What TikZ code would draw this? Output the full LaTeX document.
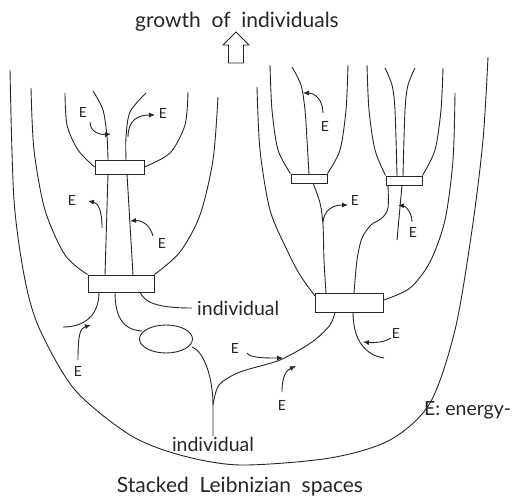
\documentclass[tikz,border=0pt]{standalone}
\usepackage{fontspec}
\setmainfont{Lato}
\usetikzlibrary{arrows.meta,shapes.geometric,backgrounds}
\tikzset{
  ln/.style={draw=black!85, line width=0.9pt},
  earrow/.style={ln, -{Latex[length=6pt,width=5pt]}},
  box/.style={draw=black!85, line width=0.9pt, fill=white, rectangle, inner sep=0pt},
  elab/.style={font=\fontsize{14}{15}\selectfont, text=black!85, inner sep=0pt},
  biglab/.style={font=\fontsize{19.5}{21}\selectfont, text=black!85, inner sep=0pt},
}
\begin{document}
\begin{tikzpicture}[x=1pt,y=-1pt]
\useasboundingbox (0,0) rectangle (512,500);
% boxes
\node[box, minimum width=49pt, minimum height=14pt] (LA) at (119.5,167) {};
\node[box, minimum width=66pt, minimum height=17pt] (LB) at (121,283.5) {};
\node[box, minimum width=36pt, minimum height=9pt] (RA) at (309,178.5) {};
\node[box, minimum width=36pt, minimum height=9pt] (RB) at (404,180.5) {};
\node[box, minimum width=68pt, minimum height=19pt] (RC) at (349,302.5) {};
\node[draw=black!85, line width=0.9pt, ellipse, minimum width=53pt, minimum height=28pt, inner sep=0pt] (EL) at (166,339) {};
% labels
\node[biglab, font=\fontsize{21}{23}\selectfont] (title) at (237,22) {growth\ \ of\ \ individuals};
\node[biglab, font=\fontsize{21}{23}\selectfont] (bottom) at (240,487) {Stacked\ \ Leibnizian\ \ spaces};
\node[biglab, anchor=west] (ind1) at (197,308) {individual};
\node[biglab] (ind2) at (213,444) {individual};
\node[biglab, anchor=west] (energy) at (424,410) {E: energy-};
% hollow arrow
\draw[ln, fill=white] (228.5,63) -- (228.5,45) -- (223,45) -- (236,32) -- (249,45) -- (243.5,45) -- (243.5,63) -- cycle;
\begin{scope}[on background layer]
% outer U
\draw[ln] plot[smooth] coordinates {(10,70) (14,200) (25,280) (40,330) (75,390) (130,435) (180,455) (240,465) (330,458) (390,440) (430,403) (455,330) (472,230) (483,140) (488,57)};
% left second U
\draw[ln] plot[smooth] coordinates {(31,88) (34,150) (45,210) (65,255) (LB.north west)};
\draw[ln] plot[smooth] coordinates {(218,97) (213,160) (200,215) (180,252) (LB.north east)};
% upper-left inner U
\draw[ln] plot[smooth] coordinates {(65,93) (67,125) (78,150) (LA.west)};
\draw[ln] plot[smooth] coordinates {(188,92) (185,125) (170,153) (LA.east)};
% stems
\draw[ln] plot[smooth] coordinates {(93,91) (103,110) (107,137) (108,160)};
\draw[ln] plot[smooth] coordinates {(146,93) (130,112) (126,137) (126,160)};
\draw[ln] (108,174) -- (105,275);
\draw[ln] (127,174) -- (133,275);
% below LB
\draw[ln] (99,292) .. controls (99,315) and (85,327) .. (63,327);
\draw[ln] (115,292) .. controls (115,320) and (125,330) .. (142,331);
\draw[ln] (140,292) .. controls (145,305) and (165,308) .. (192,308);
% ellipse to cusp
\draw[ln] (192,347) .. controls (205,352) and (213,380) .. (213,405) -- (213,436);
\draw[ln] plot[smooth] coordinates {(213,405) (219,385) (240,372) (280,360) (312,342) (330,325) (335,312)};
\draw[ln] (353,312) .. controls (353,340) and (365,355) .. (384,358);
% right medium U
\draw[ln] plot[smooth] coordinates {(257,87) (260,150) (270,210) (287,250) (300,275) (315,296)};
\draw[ln] plot[smooth] coordinates {(455,93) (453,160) (445,220) (430,262) (410,288) (384,300)};
% RA U
\draw[ln] plot[smooth] coordinates {(270,65) (272,110) (278,150) (RA.north west)};
\draw[ln] plot[smooth] coordinates {(348,65) (346,110) (340,150) (RA.north east)};
\draw[ln] plot[smooth] coordinates {(292,67) (301,85) (305,110) (307,140) (309,174)};
\draw[ln] plot[smooth] coordinates {(313,183) (320,203) (323,225) (324,260) (326,293)};
% RB U
\draw[ln] plot[smooth] coordinates {(367,65) (369,110) (375,150) (RB.north west)};
\draw[ln] plot[smooth] coordinates {(443,68) (441,110) (435,150) (RB.north east)};
\draw[ln] plot[smooth] coordinates {(385,68) (392,85) (395,110) (397,176)};
\draw[ln] plot[smooth] coordinates {(415,68) (408,85) (405,110) (403,176)};
\draw[ln] plot[smooth] coordinates {(388,185) (388,208) (382,218) (371,225) (362,238) (357,260) (354,293)};
\draw[ln] (402,185) -- (397,240);
\end{scope}
% E arrows
\node[elab] (e1) at (83,112) {E};
\draw[earrow] (90,122) .. controls (90,132) and (100,135) .. (111,134);
\node[elab] (e2) at (163,113) {E};
\draw[earrow] (128,137) .. controls (128,120) and (138,115) .. (155,115);
\node[elab] (e3) at (72,200) {E};
\draw[earrow] (102,228) .. controls (102,210) and (98,203) .. (88,201);
\node[elab] (e4) at (162,243) {E};
\draw[earrow] (153,236) .. controls (150,225) and (142,220) .. (130,221);
\node[elab] (e5) at (78,371) {E};
\draw[earrow] (78,360) .. controls (78,335) and (80,328) .. (91,325);
\node[elab] (e6) at (235,348) {E};
\draw[earrow] (247,353) .. controls (250,358) and (265,358) .. (283,358);
\node[elab] (e7) at (282,405) {E};
\draw[earrow] (282,392) .. controls (282,375) and (287,370) .. (296,366);
\node[elab] (e8) at (396,333) {E};
\draw[earrow] (391,338) .. controls (385,342) and (375,343) .. (363,342);
\node[elab] (e9) at (325,126) {E};
\draw[earrow] (323,113) .. controls (323,100) and (315,93) .. (303,93);
\node[elab] (e10) at (355,200) {E};
\draw[earrow] (323,222) .. controls (324,210) and (333,205) .. (348,205);
\node[elab] (e11) at (413,232) {E};
\draw[earrow] (412,222) .. controls (412,212) and (405,206) .. (398,205);
\end{tikzpicture}
\end{document}
